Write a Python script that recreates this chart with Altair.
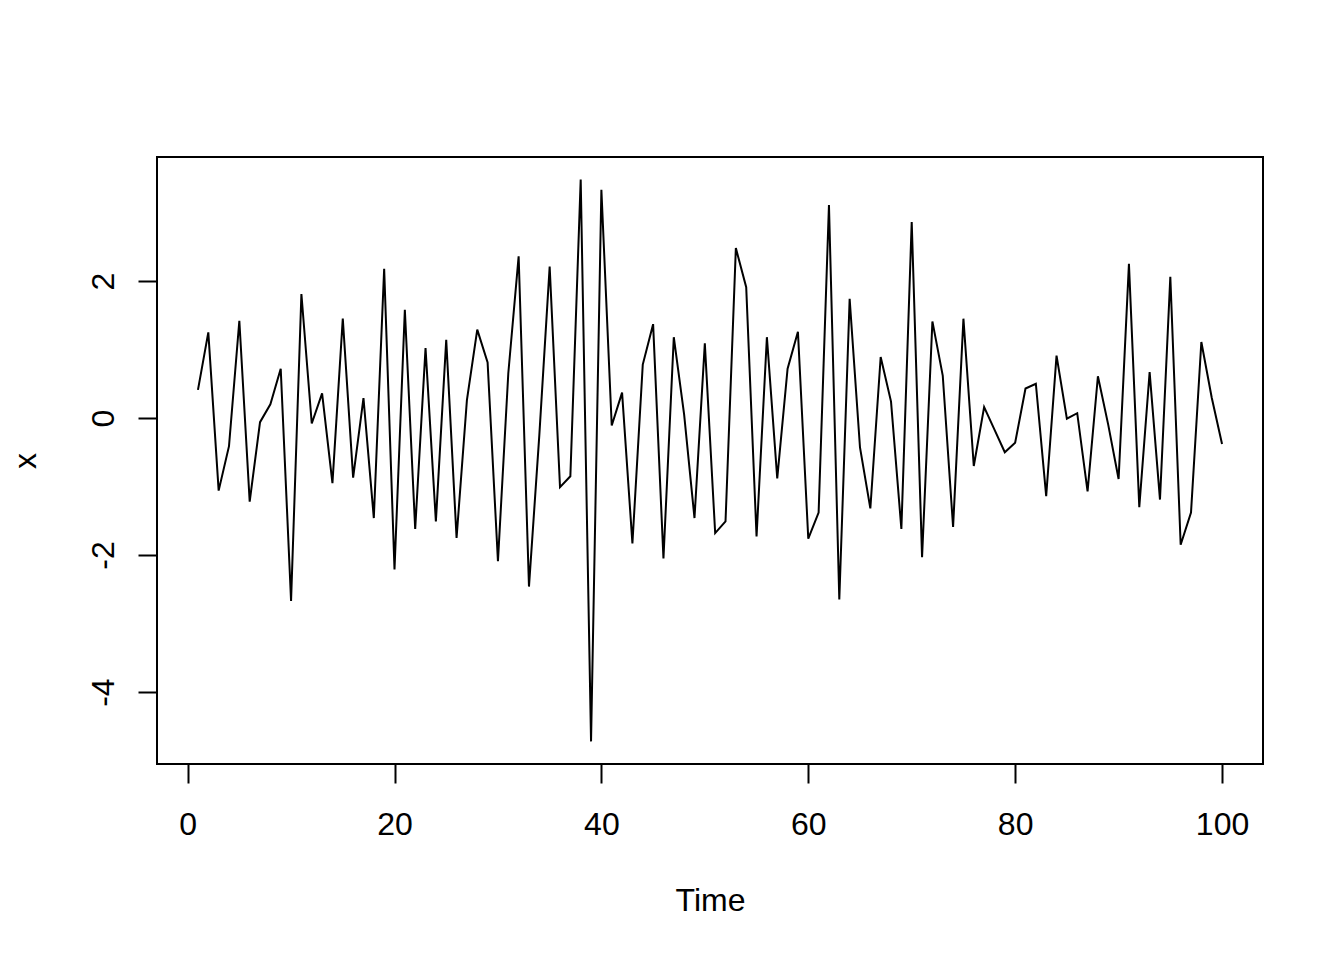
import altair as alt
import pandas as pd

time = list(range(1, 101))
values = [
    0.41, 1.25, -1.06, -0.41, 1.42, -1.22, -0.06, 0.20, 0.72, -2.67,
    1.81, -0.08, 0.36, -0.95, 1.45, -0.87, 0.29, -1.46, 2.18, -2.21,
    1.58, -1.62, 1.02, -1.51, 1.14, -1.75, 0.26, 1.29, 0.81, -2.09,
    0.65, 2.36, -2.46, -0.25, 2.21, -1.01, -0.85, 3.48, -4.72, 3.33,
    -0.11, 0.37, -1.83, 0.78, 1.37, -2.05, 1.18, 0.05, -1.46, 1.09,
    -1.68, -1.51, 2.48, 1.91, -1.73, 1.18, -0.88, 0.72, 1.26, -1.76,
    -1.38, 3.11, -2.65, 1.74, -0.43, -1.32, 0.89, 0.24, -1.62, 2.86,
    -2.03, 1.41, 0.62, -1.59, 1.45, -0.70, 0.16, -0.17, -0.50, -0.36,
    0.43, 0.50, -1.14, 0.91, -0.01, 0.07, -1.07, 0.61, -0.10, -0.89,
    2.25, -1.30, 0.67, -1.19, 2.06, -1.85, -1.38, 1.11, 0.30, -0.38,
]
x_ticks = [0, 20, 40, 60, 80, 100]
y_ticks = [-4, -2, 0, 2]

df = pd.DataFrame({"Time": time, "x": values})

FONT = "Liberation Sans"

chart = (
    alt.Chart(df)
    .mark_line(color="black", strokeWidth=2)
    .encode(
        x=alt.X(
            "Time:Q",
            scale=alt.Scale(domain=[-2.96, 103.96], nice=False, zero=False),
            axis=alt.Axis(
                values=x_ticks,
                domain=False,
                grid=False,
                ticks=True,
                tickSize=19,
                tickWidth=2,
                tickColor="black",
                labelFont=FONT,
                labelFontSize=32,
                labelColor="black",
                labelBaseline="alphabetic",
                labelPadding=51,
                labelFlush=False,
                labelOverlap=False,
                labelExpr="'' + datum.value",
                title="Time",
                titleFont=FONT,
                titleFontSize=32,
                titleFontWeight="normal",
                titleColor="black",
                titleBaseline="alphabetic",
                titleAnchor="middle",
                titleY=146,
            ),
        ),
        y=alt.Y(
            "x:Q",
            scale=alt.Scale(domain=[-5.05, 3.81], nice=False, zero=False),
            axis=alt.Axis(
                values=y_ticks,
                domain=False,
                grid=False,
                ticks=True,
                tickSize=19,
                tickWidth=2,
                tickColor="black",
                labelFont=FONT,
                labelFontSize=32,
                labelColor="black",
                labelAngle=270,
                labelAlign="center",
                labelBaseline="alphabetic",
                labelPadding=25,
                labelFlush=False,
                labelOverlap=False,
                labelExpr="'' + datum.value",
                title="x",
                titleFont=FONT,
                titleFontSize=32,
                titleFontWeight="normal",
                titleColor="black",
                titleAngle=270,
                titleAlign="center",
                titleBaseline="alphabetic",
                titleX=-122,
                titleY=303.5,
            ),
        ),
    )
    .properties(
        width=1106,
        height=607,
        background="white",
        autosize=alt.AutoSizeParams(type="none"),
        padding={"left": 149, "top": 149, "right": 73, "bottom": 170},
    )
    .configure_view(stroke="black", strokeWidth=2, fill="white")
)

chart.save("out.html", embed_options={"renderer": "svg", "actions": False})
